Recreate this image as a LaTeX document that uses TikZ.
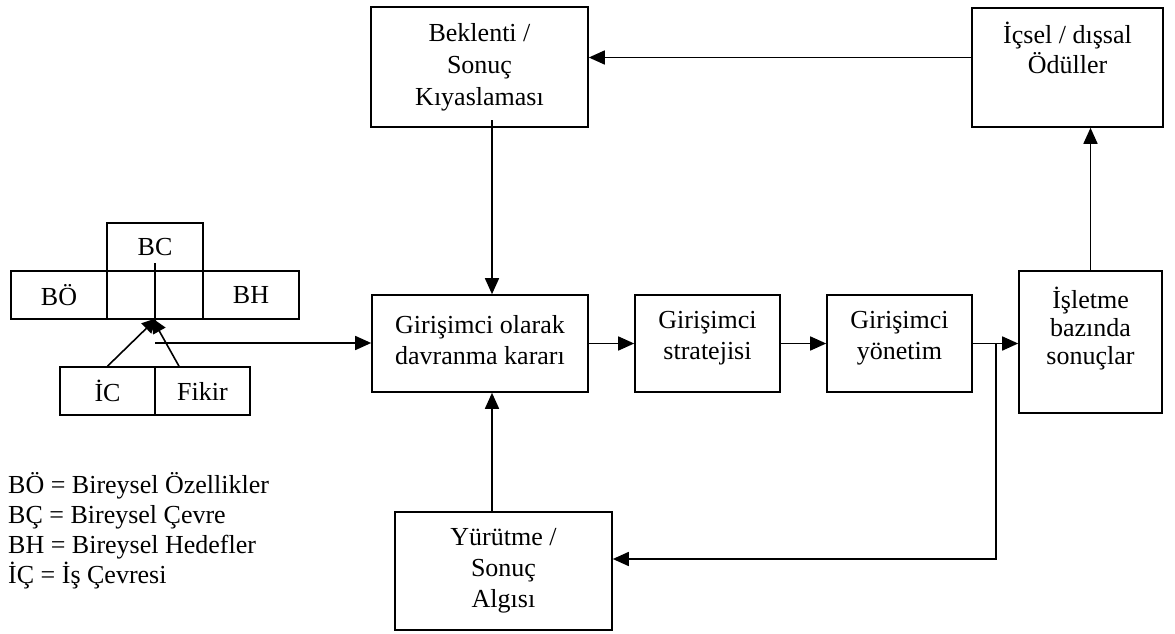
\documentclass[tikz,border=0pt]{standalone}
\usepackage{fontspec}
\setmainfont{Liberation Serif}
\usetikzlibrary{arrows.meta}

\begin{document}
\begin{tikzpicture}[x=1pt,y=-1pt,
  box/.style={draw, line width=1.6pt, inner sep=0pt},
  txt/.style={align=center, inner sep=0pt, font=\fontsize{26}{30.5}\selectfont},
  arr/.style={line width=1.6pt, -{Triangle[length=16pt,width=14pt]}},
  sarr/.style={line width=1.6pt, -{Triangle[length=15pt,width=14pt]}},
  plain/.style={line width=1.6pt}]
\useasboundingbox (0,0) rectangle (1175,634);

% main process boxes
\node[box, minimum width=217pt, minimum height=120pt] (bek)   at (479.5,67)   {};
\node[box, minimum width=191pt, minimum height=119pt] (icsel) at (1067.5,67.5) {};
\node[box, minimum width=216pt, minimum height=97pt]  (gir)   at (480,343.5)  {};
\node[box, minimum width=145pt, minimum height=97pt]  (str)   at (707.5,343.5) {};
\node[box, minimum width=145pt, minimum height=97pt]  (yon)   at (899.5,343.5) {};
\node[box, minimum width=143pt, minimum height=142pt] (isl)   at (1090.5,342) {};
\node[box, minimum width=217pt, minimum height=118pt] (yur)   at (503.5,571)  {};

% box texts
\node[txt, font=\fontsize{26}{32}\selectfont] (bek-t) at (479.5,67) {Beklenti /\\Sonuç\\Kıyaslaması};
\node[txt] (icsel-t) at (1067.5,48)  {İçsel / dışsal\\Ödüller};
\node[txt] (gir-t)   at (480,340)    {Girişimci olarak\\davranma kararı};
\node[txt] (str-t)   at (707.5,338)  {Girişimci\\stratejisi};
\node[txt] (yon-t)   at (899.5,338)  {Girişimci\\yönetim};
\node[txt, font=\fontsize{26}{28}\selectfont] (isl-t) at (1090.5,329) {İşletme\\bazında\\sonuçlar};
\node[txt, font=\fontsize{26}{31}\selectfont] (yur-t) at (503.5,571) {Yürütme /\\Sonuç\\Algısı};

% individual factors cluster
\node[box, txt, minimum width=96pt, minimum height=48pt] (bc)  at (155,247) {BC};
\node[box, txt, minimum width=96pt, minimum height=48pt] (bo)  at (59,295)  {BÖ};
\node[box, minimum width=96pt, minimum height=48pt]      (mid) at (155,295) {};
\node[box, txt, minimum width=96pt, minimum height=48pt] (bh)  at (251,295) {BH};
\node[box, txt, minimum width=95pt, minimum height=48pt] (ic)  at (107.5,391) {İC};
\node[box, txt, minimum width=95pt, minimum height=48pt] (fik) at (202.5,391) {Fikir};

% legend
\node[txt, align=left, anchor=west, font=\fontsize{26}{30}\selectfont] (legend) at (8,531)
  {BÖ = Bireysel Özellikler\\BÇ = Bireysel Çevre\\BH = Bireysel Hedefler\\İÇ = İş Çevresi};

% helper points
\coordinate (bctop) at (155,263);
\coordinate (meet)  at (155,325);
\coordinate (hs)    at (155,343);
\coordinate (colx)  at (492,0);
\coordinate (bekout) at (492,120);
\coordinate (split) at (996,343.5);

% connectors of the cluster
\draw[plain] (bctop) -- (meet);
\draw[sarr] (ic.north) -- (157,318);
\draw[sarr] ([xshift=-23.5pt]fik.north) -- (152,318);
\draw[arr] (hs) -- (hs -| gir.west);

% main flow
\draw[arr] (gir.east) -- (str.west);
\draw[arr] (str.east) -- (yon.west);
\draw[arr] (yon.east) -- (yon.east -| isl.west);
\draw[arr] (isl.north) -- (isl.north |- icsel.south);
\draw[arr] ([yshift=10pt]icsel.west) -- ([yshift=10pt]icsel.west -| bek.east);
\draw[arr] (bekout) -- (bekout |- gir.north);
\draw[arr] (split) |- ([yshift=12pt]yur.east);
\draw[arr] (yur.north -| colx) -- (gir.south -| colx);
\end{tikzpicture}
\end{document}
